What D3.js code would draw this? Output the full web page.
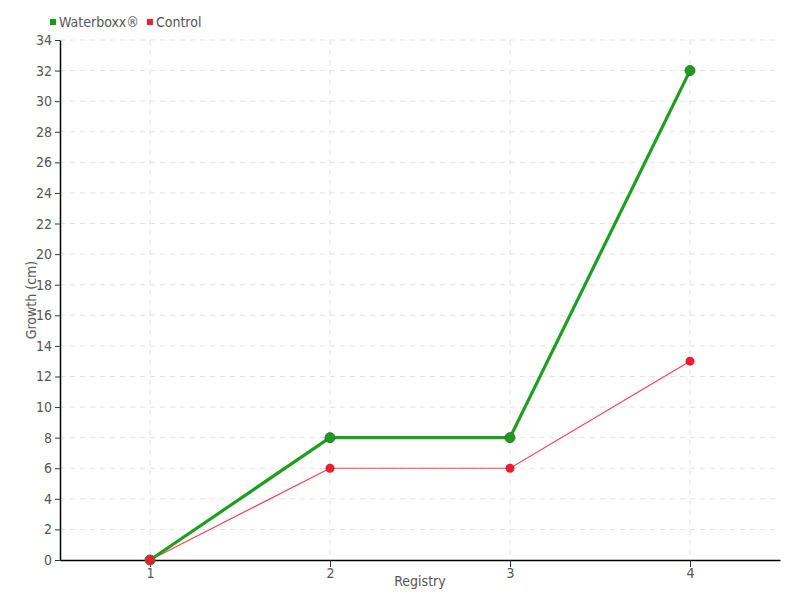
<!DOCTYPE html>
<html><head><meta charset="utf-8">
<script src="https://cdn.jsdelivr.net/npm/d3@7"></script>
<style>
body{margin:0;background:#fff;}
text{font-family:"DejaVu Sans",sans-serif;font-stretch:condensed;fill:#555;}
</style></head>
<body><svg id="c" width="800" height="600"></svg>
<script>
const categories = [1, 2, 3, 4];
const waterboxx = [0, 8, 8, 32];
const control = [0, 6, 6, 13];
const yTicks = d3.range(0, 35, 2);
const seriesNames = ["Waterboxx®", "Control"];
const colors = ["#1a9a1a", "#ee1c2e"];

const svg = d3.select("#c");
const m = {l:60, r:20, t:40, b:40};
const W = 800, H = 600;
const x = d3.scaleLinear().domain([0.5, 4.5]).range([m.l, W - m.r]);
const y = d3.scaleLinear().domain([0, 34]).range([H - m.b, m.t]);

// grid
svg.append("g").selectAll("line").data(yTicks.slice(1)).join("line")
  .attr("x1", m.l).attr("x2", W - m.r).attr("y1", d => y(d)).attr("y2", d => y(d))
  .attr("stroke", "#e2e2e2").attr("stroke-dasharray", "5,5");
svg.append("g").selectAll("line").data(categories).join("line")
  .attr("x1", d => x(d)).attr("x2", d => x(d)).attr("y1", m.t).attr("y2", H - m.b)
  .attr("stroke", "#e2e2e2").attr("stroke-dasharray", "5,5");

// axes
const yAxis = svg.append("g").attr("transform", `translate(${m.l},0)`)
  .call(d3.axisLeft(y).tickValues(yTicks).tickFormat(d3.format("d")).tickSize(5).tickSizeOuter(0).tickPadding(3));
const xAxis = svg.append("g").attr("transform", `translate(0,${H - m.b})`)
  .call(d3.axisBottom(x).tickValues(categories).tickFormat(d3.format("d")).tickSize(7).tickSizeOuter(0).tickPadding(1));
[yAxis, xAxis].forEach(a => {
  a.select(".domain").attr("stroke", "#000").attr("stroke-width", 1.5);
  a.selectAll(".tick line").attr("stroke", "#333");
  a.selectAll("text").attr("font-size", 14).style("fill", "#555");
});

svg.append("text").attr("x", 420).attr("y", 586).attr("text-anchor", "middle")
  .attr("font-size", 14).text("Registry");
svg.append("text").attr("transform", "translate(36,300) rotate(-90)").attr("text-anchor", "middle")
  .attr("font-size", 14).text("Growth (cm)");

// lines
const line = d3.line().x((d, i) => x(categories[i])).y(d => y(d));
svg.append("path").datum(control).attr("d", line).attr("fill", "none")
  .attr("stroke", "#ff4050").attr("stroke-width", 1.2);
svg.append("path").datum(waterboxx).attr("d", line).attr("fill", "none")
  .attr("stroke", "#1f9f1f").attr("stroke-width", 3.2);
svg.append("g").selectAll("circle").data(waterboxx).join("circle")
  .attr("cx", (d, i) => x(categories[i])).attr("cy", d => y(d)).attr("r", 5)
  .attr("fill", "#1f9a1f").attr("stroke", "#2a7a2a").attr("stroke-width", 1);
svg.append("g").selectAll("circle").data(control).join("circle")
  .attr("cx", (d, i) => x(categories[i])).attr("cy", d => y(d)).attr("r", 4.5)
  .attr("fill", "#ee1c2e");

// legend
const lg = svg.append("g");
let lx = 50;
seriesNames.forEach((n, i) => {
  lg.append("rect").attr("x", lx).attr("y", 19).attr("width", 6).attr("height", 6).attr("fill", colors[i]);
  const t = lg.append("text").attr("x", lx + 9).attr("y", 27).attr("font-size", 14).text(n);
  lx += 9 + t.node().getComputedTextLength() + 8;
});
</script></body></html>
